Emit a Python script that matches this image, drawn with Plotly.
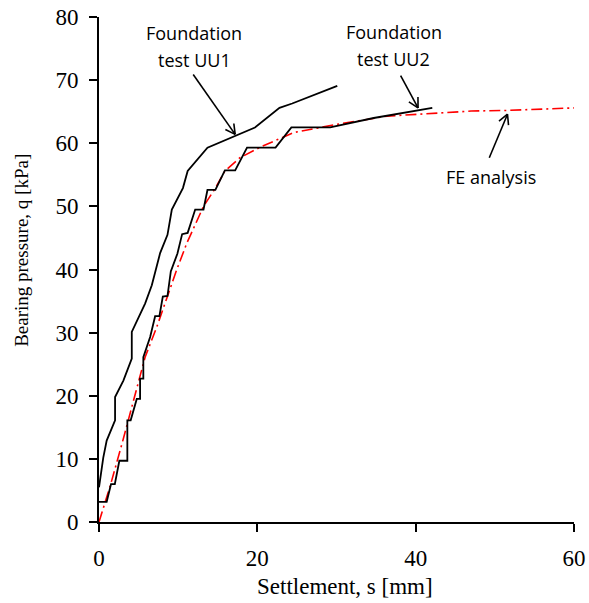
import math
import plotly.graph_objects as go

# UU1 foundation test
uu1_s = [0.0, 0.54, 0.97, 2.03, 2.03, 3.08, 4.14, 4.14, 5.82, 6.67, 7.72, 8.65, 9.2, 10.6, 11.2, 13.7, 19.7, 22.8, 24.4, 30.1]
uu1_q = [5.5, 10.2, 12.9, 16.1, 19.8, 22.4, 25.9, 30.1, 34.6, 37.5, 42.6, 45.5, 49.5, 52.9, 55.6, 59.3, 62.5, 65.6, 66.3, 69.1]

# UU2 foundation test
uu2_s = [0.0, 0.97, 1.52, 2.0, 2.57, 3.58, 3.58, 4.0, 4.77, 5.19, 5.19, 5.6, 5.6, 6.46, 7.09, 7.63, 8.06, 8.65, 9.07, 9.9, 10.5, 11.2,
         12.15, 13.2, 13.7, 14.7, 15.9, 17.2, 18.7, 22.3, 24.3, 29.2, 34.7, 42.1]
uu2_q = [3.2, 3.2, 6.0, 6.0, 9.7, 9.7, 16.1, 16.1, 19.5, 19.5, 22.7, 22.7, 26.1, 29.3, 32.6, 32.6, 35.7, 35.8, 39.7, 42.5, 45.6, 45.8,
         49.5, 49.5, 52.6, 52.6, 55.7, 55.7, 59.3, 59.3, 62.5, 62.5, 64.0, 65.6]

# FE analysis
fe_s = [0.0, 1.48, 2.95, 5.1, 5.82, 7.3, 9.8, 11.1, 13.2, 14.7, 15.9, 17.8, 20.4, 24.6, 30.1, 36.4, 47.0, 51.6, 60.0]
fe_q = [0.0, 6.0, 12.6, 22.4, 26.1, 30.9, 39.9, 44.2, 50.0, 52.9, 55.6, 57.7, 59.4, 61.7, 63.0, 64.3, 65.1, 65.2, 65.6]

x_ticks = [0, 20, 40, 60]
y_ticks = [0, 10, 20, 30, 40, 50, 60, 70, 80]

# callouts: (label lines, label position, arrow tail, arrow head)
callout_labels = [["Foundation", "test UU1"], ["Foundation", "test UU2"], ["FE analysis"]]
callout_text_s = [12.0, 37.2, 49.5]
callout_text_q = [77.5, 77.7, 54.7]
arrow_tail_s = [11.9, 38.1, 49.3]
arrow_tail_q = [70.9, 70.7, 57.7]
arrow_head_s = [17.2, 40.3, 51.6]
arrow_head_q = [61.4, 65.6, 64.6]

X_RANGE = [0, 60]
Y_RANGE = [0, 80]
W, H = 589, 603
ML, MR, MT, MB = 99, 15, 17, 81
px_per_s = (W - ML - MR) / (X_RANGE[1] - X_RANGE[0])
px_per_q = (H - MT - MB) / (Y_RANGE[1] - Y_RANGE[0])

fig = go.Figure()
fig.add_trace(go.Scatter(x=fe_s, y=fe_q, mode="lines", line=dict(color="#ff0000", width=1.6, dash="11px,4px,2px,4px"),
                         name="FE analysis", showlegend=False))
fig.add_trace(go.Scatter(x=uu1_s, y=uu1_q, mode="lines", line=dict(color="black", width=1.8),
                         name="UU1", showlegend=False))
fig.add_trace(go.Scatter(x=uu2_s, y=uu2_q, mode="lines", line=dict(color="black", width=1.8),
                         name="UU2", showlegend=False))

# arrows with open V heads, drawn as line shapes
arm_len = 11.0
arm_ang = math.radians(28)
for ts, tq, hs, hq in zip(arrow_tail_s, arrow_tail_q, arrow_head_s, arrow_head_q):
    fig.add_shape(type="line", x0=ts, y0=tq, x1=hs, y1=hq, xref="x", yref="y",
                  line=dict(color="black", width=1.6))
    dx = (hs - ts) * px_per_s
    dy = -(hq - tq) * px_per_q
    n = math.hypot(dx, dy)
    ux, uy = dx / n, dy / n
    for sgn in (1, -1):
        c, s_ = math.cos(sgn * arm_ang), math.sin(sgn * arm_ang)
        rx = ux * c - uy * s_
        ry = ux * s_ + uy * c
        ex = hs - arm_len * rx / px_per_s
        ey = hq + arm_len * ry / px_per_q
        fig.add_shape(type="line", x0=hs, y0=hq, x1=ex, y1=ey, xref="x", yref="y",
                      line=dict(color="black", width=1.6))

ann_font = dict(family="Open Sans", size=18, color="black")
line_gap_q = 27 / px_per_q
for lines, xs, yq in zip(callout_labels, callout_text_s, callout_text_q):
    for i, t in enumerate(lines):
        fig.add_annotation(x=xs, y=yq - i * line_gap_q, xref="x", yref="y", text=t, showarrow=False,
                           font=ann_font, xanchor="center", yanchor="middle")

fig.add_annotation(x=0.518, y=-0.128, xref="paper", yref="paper", text="Settlement, s [mm]", showarrow=False,
                   font=dict(family="Liberation Serif", size=23, color="black"), yanchor="middle")
fig.add_annotation(x=-0.162, y=0.537, xref="paper", yref="paper", text="Bearing pressure, q [kPa]", showarrow=False,
                   font=dict(family="Liberation Serif", size=19, color="black"), textangle=-90,
                   xanchor="center", yanchor="middle")

tickfont = dict(family="Liberation Serif", size=23, color="black")
fig.update_xaxes(range=X_RANGE, tickvals=x_ticks, ticks="outside", ticklen=8, tickwidth=1.5, tickcolor="black",
                 showline=True, linecolor="black", linewidth=2, showgrid=False, zeroline=False,
                 tickfont=tickfont, automargin=False, ticklabelstandoff=6)
fig.update_yaxes(range=Y_RANGE, tickvals=y_ticks, ticks="outside", ticklen=8, tickwidth=1.5, tickcolor="black",
                 showline=True, linecolor="black", linewidth=2, showgrid=False, zeroline=False,
                 tickfont=tickfont, automargin=False, ticklabelstandoff=6)

fig.update_layout(width=W, height=H, margin=dict(l=ML, r=MR, t=MT, b=MB),
                  plot_bgcolor="white", paper_bgcolor="white", showlegend=False)

fig.write_html("out.html")
